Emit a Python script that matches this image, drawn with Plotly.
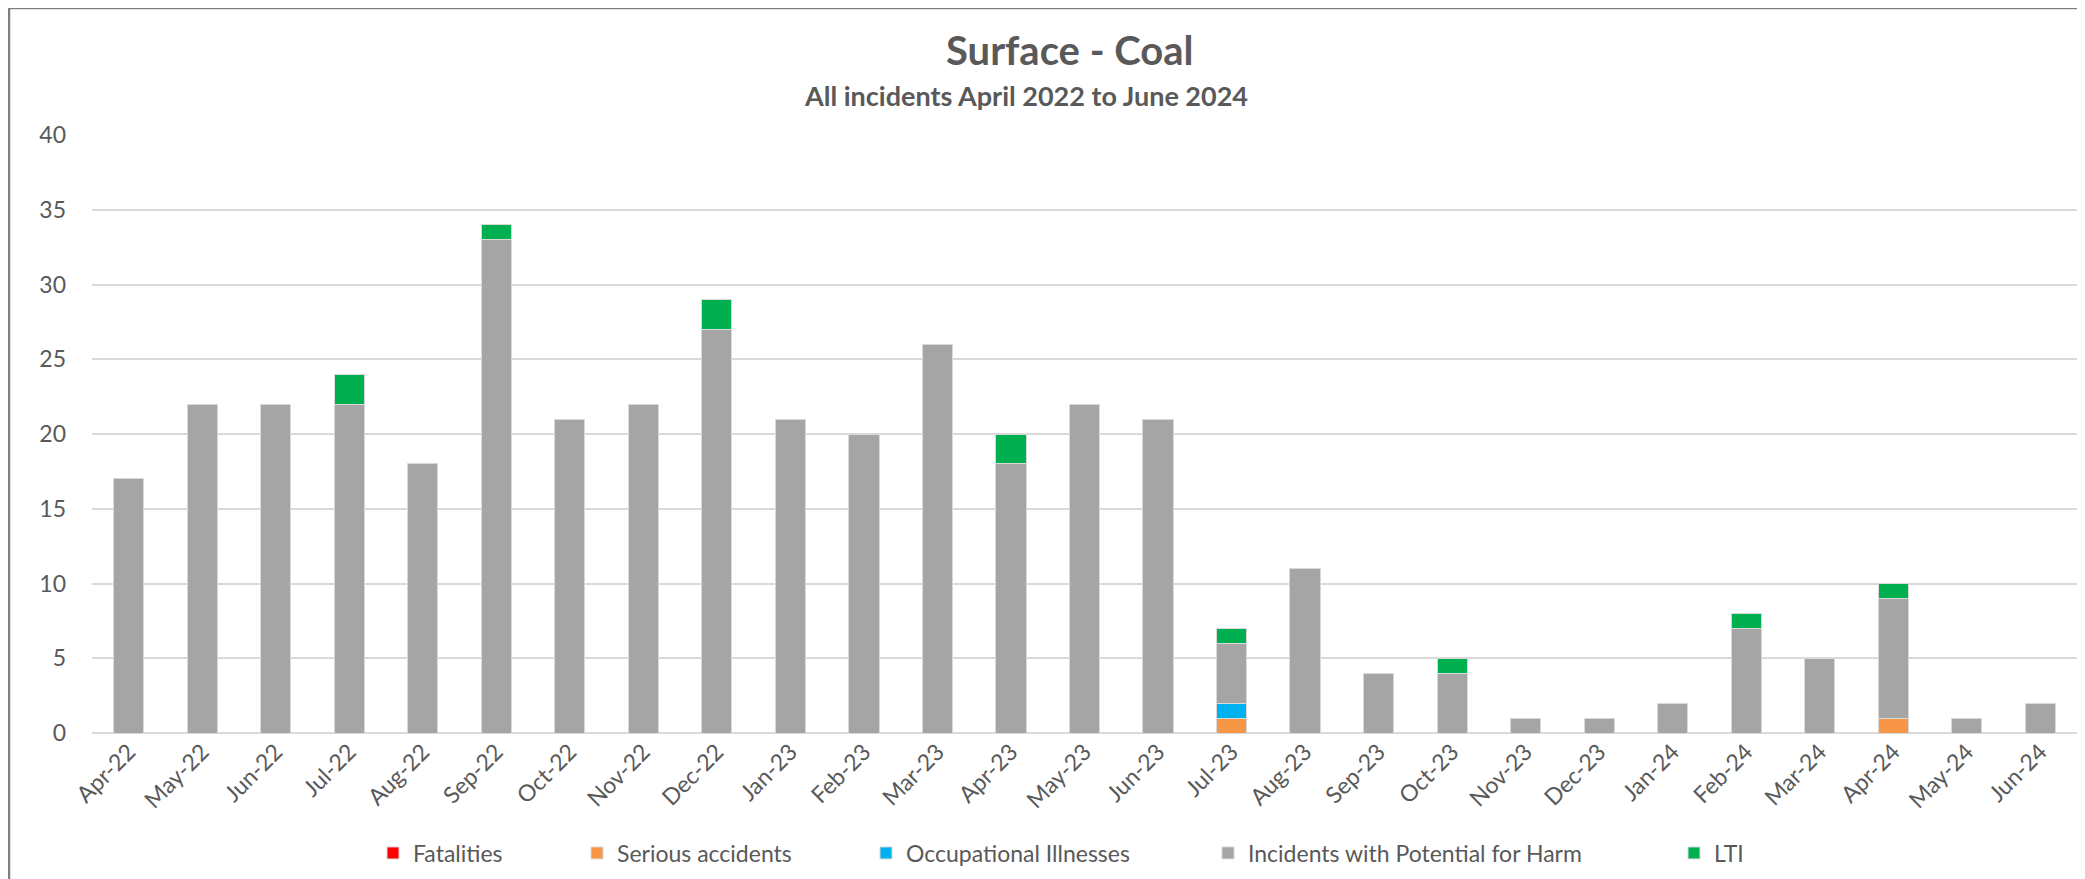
import plotly.graph_objects as go

months = ["Apr-22", "May-22", "Jun-22", "Jul-22", "Aug-22", "Sep-22", "Oct-22", "Nov-22", "Dec-22",
          "Jan-23", "Feb-23", "Mar-23", "Apr-23", "May-23", "Jun-23", "Jul-23", "Aug-23", "Sep-23",
          "Oct-23", "Nov-23", "Dec-23", "Jan-24", "Feb-24", "Mar-24", "Apr-24", "May-24", "Jun-24"]

fatalities = [0] * 27
serious = [0, 0, 0, 0, 0, 0, 0, 0, 0, 0, 0, 0, 0, 0, 0, 1, 0, 0, 0, 0, 0, 0, 0, 0, 1, 0, 0]
occupational = [0, 0, 0, 0, 0, 0, 0, 0, 0, 0, 0, 0, 0, 0, 0, 1, 0, 0, 0, 0, 0, 0, 0, 0, 0, 0, 0]
potential_harm = [17, 22, 22, 22, 18, 33, 21, 22, 27, 21, 20, 26, 18, 22, 21, 4, 11, 4, 4, 1, 1, 2, 7, 5, 8, 1, 2]
lti = [0, 0, 0, 2, 0, 1, 0, 0, 2, 0, 0, 0, 2, 0, 0, 1, 0, 0, 1, 0, 0, 0, 1, 0, 1, 0, 0]

series = [
    ("Fatalities", fatalities, "#FF0000"),
    ("Serious accidents", serious, "#F79646"),
    ("Occupational Illnesses", occupational, "#00B0F0"),
    ("Incidents with Potential for Harm", potential_harm, "#A5A5A5"),
    ("LTI", lti, "#00B050"),
]
# legend marker x positions in reference pixels
legend_x = [393, 597, 886, 1228, 1694]

FONT = "Lato, 'Open Sans', sans-serif"
TXT = "#595959"

# page has an 8px body margin: work in reference pixel coordinates, shifted by OFF
OFF = 8
W, H = 2085 - OFF, 879 - OFF
L, R, T, B = 92 - OFF, 8, 135 - OFF, 146
pw, ph = W - L - R, H - T - B

def px(x):
    return (x - OFF - L) / pw

def py(y):
    return (H - B - (y - OFF)) / ph

fig = go.Figure()
legends = {}
for i, (name, vals, col) in enumerate(series):
    lg = "legend" if i == 0 else f"legend{i + 1}"
    fig.add_trace(go.Bar(
        x=months, y=vals, name=name, legend=lg,
        marker=dict(color=col, line=dict(color="#D9D9D9", width=1)),
    ))
    legends[lg] = dict(orientation="h", x=px(legend_x[i] - 20), xanchor="left",
                       y=py(853), yanchor="middle", bgcolor="rgba(0,0,0,0)",
                       font=dict(size=23, color=TXT, family=FONT))

fig.update_layout(
    width=W, height=H,
    barmode="stack", bargap=0.59,
    margin=dict(l=L, r=R, t=T, b=B, autoexpand=False),
    paper_bgcolor="white", plot_bgcolor="white",
    font=dict(family=FONT, color=TXT, size=21),
    showlegend=True,
    xaxis=dict(type="category", tickangle=-45, tickfont=dict(size=23, color=TXT),
               showgrid=False, showline=False, ticks=""),
    yaxis=dict(range=[0, 40], dtick=5, tickfont=dict(size=23, color=TXT),
               showgrid=True, gridcolor="#D9D9D9", gridwidth=1.5,
               zeroline=True, zerolinecolor="#D9D9D9", zerolinewidth=1.5,
               showline=False, ticks="", ticklabelstandoff=25),
    annotations=[
        dict(text="<b>Surface - Coal</b>", xref="paper", yref="paper",
             x=px(1070), y=py(50), xanchor="center", yanchor="middle",
             showarrow=False, font=dict(size=40, color=TXT, family=FONT)),
        dict(text="<b>All incidents April 2022 to June 2024</b>", xref="paper", yref="paper",
             x=px(1026), y=py(96), xanchor="center", yanchor="middle",
             showarrow=False, font=dict(size=27, color=TXT, family=FONT)),
    ],
    shapes=[
        dict(type="line", xref="paper", yref="paper", x0=px(9), x1=px(2100), y0=py(8), y1=py(8),
             line=dict(color="#7F7F7F", width=2.5)),
        dict(type="line", xref="paper", yref="paper", x0=px(9), x1=px(9), y0=py(8), y1=py(900),
             line=dict(color="#7F7F7F", width=2.5)),
    ],
    **legends,
)

fig.write_html("out.html")
